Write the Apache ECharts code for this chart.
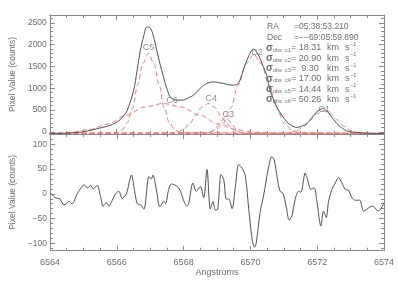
<!DOCTYPE html>
<html>
<head>
<meta charset="utf-8">
<script src="https://cdn.jsdelivr.net/npm/echarts@6/dist/echarts.min.js"></script>
<style>
html, body { margin: 0; padding: 0; background: #fff; }
#chart-container { width: 399px; height: 285px; }
</style>
</head>
<body>
<div id="chart-container"></div>
<script>
var dom = document.getElementById('chart-container');
var myChart = echarts.init(dom, null, { renderer: 'canvas' });

// observed spectrum (upper panel)
var specWl = [6564.00, 6564.49, 6565.00, 6565.51, 6565.81, 6566.02, 6566.17, 6566.32, 6566.51, 6566.61,
  6566.71, 6566.81, 6566.91, 6567.01, 6567.10, 6567.20, 6567.30, 6567.40, 6567.50, 6567.60,
  6567.70, 6567.80, 6568.00, 6568.10, 6568.20, 6568.30, 6568.50, 6568.70, 6568.90, 6569.04,
  6569.20, 6569.34, 6569.49, 6569.64, 6569.79, 6569.94, 6570.09, 6570.23, 6570.39, 6570.49,
  6570.59, 6570.79, 6570.94, 6571.09, 6571.24, 6571.39, 6571.54, 6571.69, 6571.82, 6571.94,
  6572.06, 6572.19, 6572.29, 6572.39, 6572.59, 6572.74, 6572.88, 6573.07, 6573.28, 6573.68, 6574.00];
var specCounts = [-37, -30, 0, 90, 150, 230, 330, 500, 955, 1400,
  1870, 2200, 2410, 2380, 2200, 1870, 1550, 1260, 1000, 800,
  740, 730, 727, 760, 800, 840, 1000, 1110, 1147, 1130,
  1110, 1080, 1070, 1110, 1415, 1720, 1900, 1780, 1490, 1300,
  955, 573, 380, 230, 140, 100, 130, 190, 300, 420,
  500, 535, 480, 383, 190, 90, 20, -5, -20, -35, -35];

// gaussian components (red dashed)
var c1Wl = [6564, 6571.0, 6571.2, 6571.4, 6571.6, 6571.8, 6572.0, 6572.2, 6572.4, 6572.6, 6572.8, 6573.0, 6573.2, 6573.4, 6574];
var c1Val = [-40, -34, -17, 30, 126, 277, 418, 480, 418, 277, 126, 30, -17, -34, -40];
var c2Wl = [6564, 6568.73, 6568.96, 6569.19, 6569.41, 6569.64, 6569.87, 6570.10, 6570.33, 6570.56, 6570.79, 6571.01, 6571.24, 6571.47, 6574];
var c2Val = [-40, -20, 40, 206, 542, 1070, 1562, 1780, 1562, 1070, 542, 206, 40, -20, -40];
var c3Wl = [6564, 6568.64, 6568.74, 6568.84, 6568.95, 6569.05, 6569.15, 6569.25, 6569.35, 6569.45, 6569.56, 6569.66, 6569.76, 6569.86, 6574];
var c3Val = [-40, -36, -25, 7, 72, 172, 268, 310, 268, 172, 72, 7, -25, -36, -40];
var c4Wl = [6564, 6567.62, 6567.81, 6568.00, 6568.18, 6568.37, 6568.55, 6568.74, 6568.93, 6569.11, 6569.30, 6569.48, 6569.67, 6569.86, 6574];
var c4Val = [-40, -32, -10, 53, 181, 381, 567, 650, 567, 381, 181, 53, -10, -32, -40];
var c5Wl = [6564, 6566.00, 6566.16, 6566.32, 6566.48, 6566.63, 6566.79, 6566.95, 6567.11, 6567.27, 6567.42, 6567.58, 6567.74, 6567.90, 6574];
var c5Val = [-40, -20, 41, 208, 549, 1082, 1579, 1800, 1579, 1082, 549, 208, 41, -20, -40];
var c6Wl = [6564, 6564.09, 6564.64, 6565.19, 6565.74, 6566.29, 6566.84, 6567.39, 6567.94, 6568.49, 6569.04, 6569.59, 6570.14, 6570.69, 6574];
var c6Val = [-40, -32, -10, 53, 181, 381, 567, 650, 567, 381, 181, 53, -10, -32, -40];

var compNames = ['C1', 'C2', 'C3', 'C4', 'C5', 'C6'];
var compLabelWl = [6572.21, 6570.2, 6569.34, 6568.83, 6566.95, 6567.66];
var compLabelVal = [521, 1828, 395, 773, 1943, 727];

// residuals (lower panel)
var resWl = [6564.01, 6564.16, 6564.29, 6564.41, 6564.49, 6564.56, 6564.66, 6564.81, 6564.91, 6565.01,
  6565.13, 6565.21, 6565.29, 6565.41, 6565.51, 6565.59, 6565.69, 6565.76, 6565.83, 6565.96,
  6566.06, 6566.16, 6566.23, 6566.29, 6566.44, 6566.51, 6566.61, 6566.71, 6566.81, 6566.96,
  6567.03, 6567.08, 6567.18, 6567.29, 6567.41, 6567.46, 6567.54, 6567.63, 6567.73, 6567.81,
  6567.91, 6567.98, 6568.10, 6568.15, 6568.28, 6568.38, 6568.50, 6568.60, 6568.70, 6568.80,
  6568.88, 6568.95, 6569.02, 6569.12, 6569.20, 6569.28, 6569.35, 6569.45, 6569.55, 6569.65,
  6569.75, 6569.85, 6569.95, 6570.05, 6570.12, 6570.17, 6570.29, 6570.39, 6570.54, 6570.64,
  6570.71, 6570.81, 6570.89, 6570.97, 6571.07, 6571.16, 6571.24, 6571.34, 6571.44, 6571.51,
  6571.64, 6571.71, 6571.81, 6571.91, 6571.99, 6572.11, 6572.19, 6572.27, 6572.34, 6572.44,
  6572.54, 6572.64, 6572.74, 6572.84, 6572.94, 6573.04, 6573.14, 6573.27, 6573.39, 6573.49,
  6573.59, 6573.67, 6573.74, 6573.84, 6573.94, 6574.00];
var resVal = [2, -8, -10, -22, -20, -15, -20, 0, 10, 18,
  12, 17, 10, 17, -5, -25, -18, -25, -18, 0,
  5, -10, -5, 0, 38, 15, -20, -22, -31, 35,
  30, 38, 10, -26, -15, -20, 5, 20, 18, 15,
  5, -10, -25, -20, 22, 5, 15, -8, 49, -31,
  -15, -33, -31, 39, 29, -11, -10, -30, 15, 59,
  52, 35, -31, -91, -108, -101, -38, -5, 52, 75,
  69, 29, 5, 2, -25, -53, -45, -11, 5, 3,
  42, 29, 9, 12, -15, -65, -35, -48, -15, 9,
  22, 33, 22, 9, 7, -8, -13, -13, -35, -31,
  -26, -25, -30, -35, -26, -18];

// info block
var raText = '=05:38:53.210';
var decText = '=\u2212\u221269:05:59.890';
var sigmaNames = ['c1', 'c2', 'c3', 'c4', 'c5', 'c6'];
var sigmaValues = ['18.31', '20.90', ' 9.30', '17.00', '14.44', '50.26'];

// axis ticks
var upMajor = [0, 500, 1000, 1500, 2000, 2500];
var upMinor = [];
for (var v = 0; v <= 2600; v += 100) upMinor.push(v);
var lowMajor = [-100, -50, 0, 50, 100];
var lowMinor = [];
for (var w = -110; w <= 120; w += 10) lowMinor.push(w);

var axisColor = '#8a8a8a';
var textColor = '#6e6e6e';
var font = '"Liberation Sans", Arial, sans-serif';
var red = '#f47a7a';
var curveColor = '#505050';

function pairs(xs, ys) {
  return xs.map(function (x, i) { return [x, ys[i]]; });
}
function minus(v) {
  return v < 0 ? '\u2212' + (-v) : '' + v;
}

function xAx(grid, pos, labels) {
  var ax = {
    type: 'value', gridIndex: grid, position: pos, min: 6564, max: 6574, interval: 2,
    axisLine: { show: true, onZero: false, lineStyle: { color: axisColor, width: 1 } },
    axisTick: { show: true, inside: true, length: 5, lineStyle: { color: axisColor } },
    minorTick: { show: true, splitNumber: 4, length: 3, lineStyle: { color: axisColor } },
    axisLabel: { show: labels, margin: 7, color: textColor, fontSize: 9, fontFamily: font,
      formatter: function (val) { return '' + val; } },
    splitLine: { show: false }, minorSplitLine: { show: false }
  };
  if (labels) {
    ax.name = 'Angstroms';
    ax.nameLocation = 'middle';
    ax.nameGap = 16;
    ax.nameTextStyle = { color: textColor, fontSize: 9, fontFamily: font };
  }
  return ax;
}

function yAxes(grid, min, max, majors, minors) {
  var list = [];
  ['left', 'right'].forEach(function (pos) {
    var main = {
      type: 'value', gridIndex: grid, position: pos, min: min, max: max,
      axisLine: { show: true, onZero: false, lineStyle: { color: axisColor, width: 1 } },
      axisTick: { show: true, inside: true, length: 5, customValues: majors, lineStyle: { color: axisColor } },
      axisLabel: { show: pos === 'left', customValues: majors, margin: 3, color: textColor, fontSize: 8.5, fontFamily: font, formatter: minus },
      splitLine: { show: false }
    };
    if (pos === 'left') {
      main.name = 'Pixel Value (counts)';
      main.nameLocation = 'middle';
      main.nameGap = 31;
      main.nameTextStyle = { color: textColor, fontSize: 8.5, fontFamily: font };
    }
    list.push(main);
    list.push({
      type: 'value', gridIndex: grid, position: pos, min: min, max: max,
      axisLine: { show: false },
      axisTick: { show: true, inside: true, length: 3, customValues: minors, lineStyle: { color: axisColor } },
      axisLabel: { show: false },
      splitLine: { show: false }
    });
  });
  return list;
}

function txt(x, y, s, size, bold) {
  var st = { text: s, fill: textColor, font: (bold ? 'bold ' : '') + size + 'px ' + font, textAlign: 'left', textVerticalAlign: 'middle' };
  return { type: 'text', x: x, y: y, style: st, z: 10 };
}

var graphics = [];
graphics.push(txt(267, 27, 'RA', 8.5));
graphics.push(txt(294, 27, raText, 8.5));
graphics.push(txt(267, 37.5, 'Dec', 8.5));
graphics.push(txt(294, 37.5, decText, 8.5));
sigmaNames.forEach(function (n, i) {
  var y = 48 + i * 10.3;
  graphics.push(txt(266, y, '\u03c3', 10, true));
  graphics.push(txt(273, y + 2, 'obs', 5.5));
  graphics.push(txt(285, y + 2, n, 5.5));
  graphics.push(txt(291, y, '= ' + sigmaValues[i], 9));
  graphics.push(txt(327, y, 'km', 9));
  graphics.push(txt(345, y, 's', 9));
  graphics.push(txt(350, y - 3.5, '\u22121', 5.5));
});

var compSeries = [
  [c1Wl, c1Val], [c2Wl, c2Val], [c3Wl, c3Val], [c4Wl, c4Val], [c5Wl, c5Val], [c6Wl, c6Val]
].map(function (c, i) {
  return {
    name: compNames[i], type: 'line', xAxisIndex: 0, yAxisIndex: 0,
    data: pairs(c[0], c[1]), showSymbol: false, smooth: 0.35, smoothMonotone: 'x',
    lineStyle: { color: red, width: 1, type: [5, 3] }, z: 3
  };
});

var option = {
  animation: false,
  backgroundColor: '#fff',
  grid: [
    { left: 49.5, right: 15, top: 15, height: 119 },
    { left: 49.5, right: 15, top: 134, height: 116.7 }
  ],
  xAxis: [xAx(0, 'bottom', false), xAx(0, 'top', false), xAx(1, 'bottom', true), xAx(1, 'top', false)],
  yAxis: yAxes(0, -50, 2680, upMajor, upMinor).concat(yAxes(1, -115, 121, lowMajor, lowMinor)),
  graphic: graphics,
  series: compSeries.concat([
    {
      name: 'spectrum', type: 'line', xAxisIndex: 0, yAxisIndex: 0,
      data: pairs(specWl, specCounts), showSymbol: false, smooth: 0.3,
      lineStyle: { color: curveColor, width: 1 }, z: 4
    },
    {
      name: 'labels', type: 'scatter', xAxisIndex: 0, yAxisIndex: 0,
      data: compLabelWl.map(function (x, i) { return { value: [x, compLabelVal[i]], name: compNames[i] }; }),
      symbolSize: 0,
      label: { show: true, position: 'inside', formatter: '{b}', color: textColor, fontSize: 9, fontFamily: font },
      z: 5
    },
    {
      name: 'residual', type: 'line', xAxisIndex: 2, yAxisIndex: 4,
      data: pairs(resWl, resVal), showSymbol: false, smooth: 0.3,
      lineStyle: { color: curveColor, width: 1 }
    }
  ])
};

if (option && typeof option === 'object') {
  myChart.setOption(option);
}

window.addEventListener('resize', myChart.resize);
</script>
</body>
</html>
